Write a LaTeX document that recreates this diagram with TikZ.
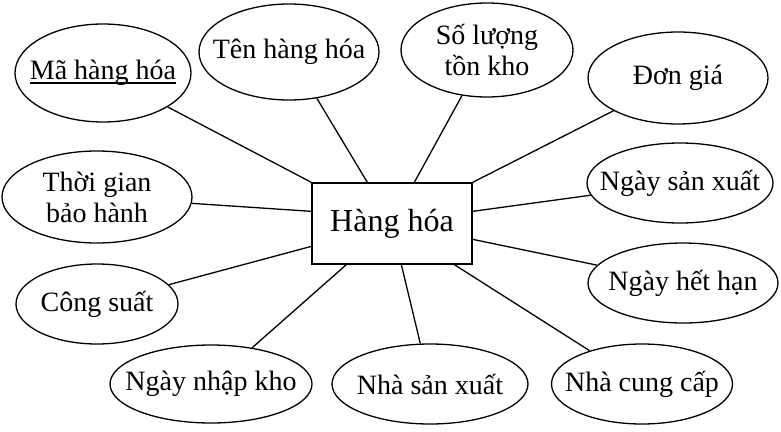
\documentclass[tikz,border=0pt]{standalone}
\usepackage{fontspec}
\setmainfont{Liberation Serif}
\usetikzlibrary{shapes.geometric}
\newcommand{\myul}[1]{{\setbox0\hbox{#1}\rlap{\rule[-3.8pt]{\wd0}{1.2pt}}\box0}}
\begin{document}
\begin{tikzpicture}[x=1pt,y=-1pt,
  attr/.style={draw,ellipse,line width=1.3pt,inner sep=0pt},
  txt/.style={inner sep=0pt,align=center,font=\fontsize{28}{31}\selectfont},
  ent/.style={draw,rectangle,line width=1.3pt,inner sep=0pt,
    font=\fontsize{32}{36}\selectfont},
  link/.style={line width=1.3pt}]
\useasboundingbox (0,0) rectangle (781,431);
\node[ent,minimum width=160pt,minimum height=81pt] (hh) at (392,223.5) {Hàng hóa};
\node[attr,minimum width=176pt,minimum height=98pt,label={[txt]center:\myul{Mã hàng hóa}}] (ma) at (103,73) {};
\node[attr,minimum width=180pt,minimum height=96pt,label={[txt]center:Tên hàng hóa}] (ten) at (289,52) {};
\node[attr,minimum width=172pt,minimum height=94pt,label={[txt]center:Số lượng\\tồn kho}] (sl) at (487,50) {};
\node[attr,minimum width=180pt,minimum height=92pt,label={[txt]center:Đơn giá}] (dg) at (678,78) {};
\node[attr,minimum width=186pt,minimum height=80pt,label={[txt]center:Ngày sản xuất}] (nsx) at (680,183) {};
\node[attr,minimum width=190pt,minimum height=92pt,label={[txt]center:Thời gian\\bảo hành}] (tg) at (97,197) {};
\node[attr,minimum width=162pt,minimum height=80pt,label={[txt]center:Công suất}] (cs) at (97,304) {};
\node[attr,minimum width=190pt,minimum height=80pt,label={[txt]center:Ngày hết hạn}] (nhh) at (683,283) {};
\node[attr,minimum width=202pt,minimum height=78pt,label={[txt]center:Ngày nhập kho}] (nnk) at (211,384) {};
\node[attr,minimum width=196pt,minimum height=80pt,label={[txt]center:Nhà sản xuất}] (nhasx) at (430,384) {};
\node[attr,minimum width=181pt,minimum height=80pt,label={[txt]center:Nhà cung cấp}] (ncc) at (642,384) {};
\coordinate (pten) at ([xshift=56pt]hh.north west);
\coordinate (psl) at ([xshift=103pt]hh.north west);
\coordinate (pnsx) at ([yshift=-29pt]hh.north east);
\coordinate (pnhh) at ([yshift=-57pt]hh.north east);
\coordinate (pncc) at ([xshift=143pt]hh.south west);
\coordinate (pnhasx) at ([xshift=90pt]hh.south west);
\coordinate (pnnk) at ([xshift=35pt]hh.south west);
\coordinate (pcs) at ([yshift=-64pt]hh.north west);
\coordinate (ptg) at ([yshift=-29pt]hh.north west);
\draw[link] (ma) -- (hh.north west);
\draw[link] (ten) -- (pten);
\draw[link] (sl) -- (psl);
\draw[link] (dg) -- (hh.north east);
\draw[link] (nsx) -- (pnsx);
\draw[link] (nhh) -- (pnhh);
\draw[link] (ncc) -- (pncc);
\draw[link] (nhasx) -- (pnhasx);
\draw[link] (nnk) -- (pnnk);
\draw[link] (cs) -- (pcs);
\draw[link] (tg) -- (ptg);
\end{tikzpicture}
\end{document}
